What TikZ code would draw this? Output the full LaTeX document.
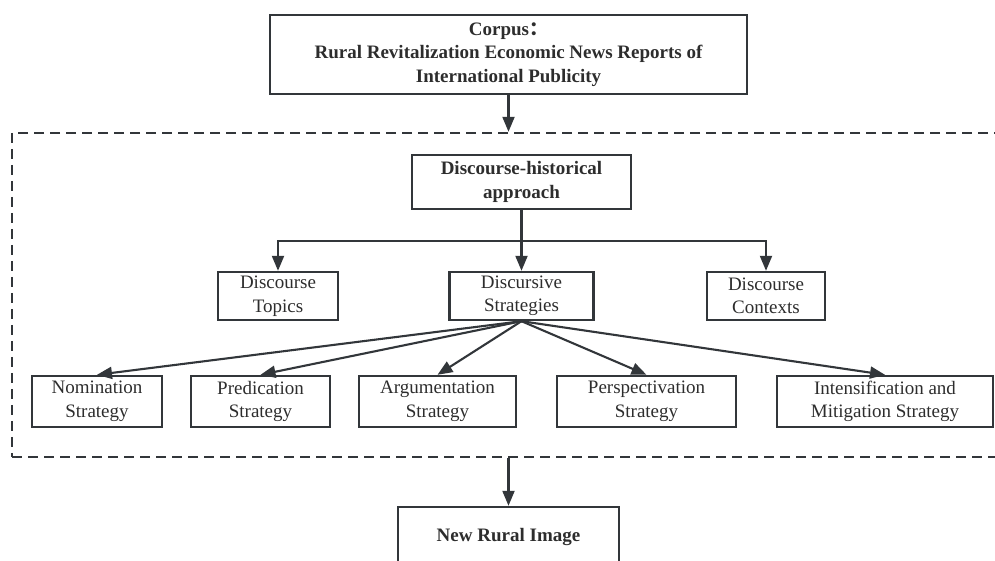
\documentclass[tikz,border=0pt]{standalone}
\usepackage{fontspec}
\setmainfont{Liberation Serif}
\newfontfamily\cjk{Noto Sans CJK SC}
\usepackage{tikz}
\usetikzlibrary{arrows.meta,positioning}
\definecolor{linegray}{RGB}{50,54,58}
\definecolor{textgray}{RGB}{45,45,45}
\tikzset{
box/.style={draw=linegray, line width=2.4pt, align=center, inner sep=0pt, text=textgray, font=\fontsize{19}{23.5}\selectfont}, % plain boxes
headbox/.style={box, font=\bfseries\fontsize{19}{23.5}\selectfont}, % bold boxes
link/.style={draw=linegray, line width=2.1pt, -{Triangle[length=15pt,width=12pt]}},
dashframe/.style={draw=linegray, line width=2.4pt, dash pattern=on 10pt off 6pt},
}

\begin{document}
\begin{tikzpicture}[x=1pt,y=1pt,on grid]
    \clip (0,0) rectangle (995,561);
    \node[dashframe, minimum width=998pt, minimum height=324pt] (group) at (511,266) {};
    \node[headbox, minimum width=477pt, minimum height=79pt] (corpus) at (508.5,506.5) {Corpus{\cjk ：}\\Rural Revitalization Economic News Reports of\\International Publicity};
    \node[headbox, minimum width=219pt, minimum height=54pt] (dha) at (521.5,379) {Discourse-historical\\approach};
    \node[box, minimum width=144pt, minimum height=48pt] (strat) [below=114pt of dha] {Discursive\\Strategies};
    \node[box, minimum width=120pt, minimum height=48pt] (topics) [left=243.5pt of strat] {Discourse\\Topics};
    \node[box, minimum width=118pt, minimum height=48pt] (contexts) [right=244.5pt of strat] {Discourse\\Contexts};
    \node[box, minimum width=130pt, minimum height=51pt] (nom) at (97,159.5) {Nomination\\Strategy};
    \node[box, minimum width=139pt, minimum height=51pt] (pred) [right=163.5pt of nom] {Predication\\Strategy};
    \node[box, minimum width=157pt, minimum height=51pt] (arg) [right=177pt of pred] {Argumentation\\Strategy};
    \node[box, minimum width=179pt, minimum height=51pt] (persp) [right=209pt of arg] {Perspectivation\\Strategy};
    \node[box, minimum width=216pt, minimum height=51pt] (intens) [right=238.5pt of persp] {Intensification and\\Mitigation Strategy};
    \node[headbox, minimum width=221pt, minimum height=60pt] (image) at (508.5,24) {New Rural Image};
    \coordinate (split) at ([yshift=-31pt]dha.south);
    \draw[link] (corpus) -- (corpus |- group.north);
    \draw[link] (dha) -- (strat);
    \draw[link] (split) -| (topics);
    \draw[link] (split) -| (contexts);
    \foreach \n in {nom,pred,arg,persp,intens}
        \draw[link] (strat.south) -- (\n.north);
    \draw[link] (group.south -| image) -- (image);
\end{tikzpicture}
\end{document}
